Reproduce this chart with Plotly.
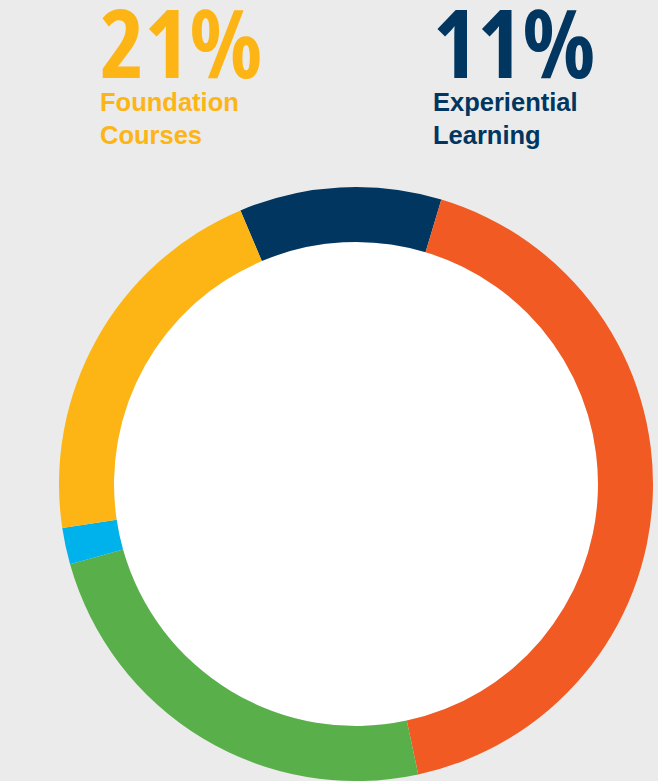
import plotly.graph_objects as go

labels = ["Experiential Learning", "Major Courses", "Electives", "Other", "Foundation Courses"]
values = [11, 42, 24, 2, 21]
colors = ["#003660", "#F15A22", "#59B04A", "#00B2EC", "#FDB515"]

W, H = 658, 781
cx, cy, R, r_in = 356, 484, 297, 242

fig = go.Figure(go.Pie(
    labels=labels, values=values, sort=False, direction="clockwise",
    rotation=-22.9, hole=r_in / R,
    marker=dict(colors=colors, line=dict(width=0)),
    textinfo="none", showlegend=False,
    domain=dict(x=[(cx - R) / W, (cx + R) / W], y=[(H - cy - R) / H, (H - cy + R) / H]),
))

# white centre of the ring
fig.add_shape(type="circle", xref="paper", yref="paper", layer="below",
              x0=(cx - r_in) / W, x1=(cx + r_in) / W,
              y0=(H - cy - r_in) / H, y1=(H - cy + r_in) / H,
              fillcolor="white", line=dict(width=0))

small = "Liberation Sans"
bigstyle = "font-family:Open Sans;font-stretch:75%;font-size:95px"

def add_label(x, pct, name, color):
    text = (f"<span style='{bigstyle}'><b>{pct}</b></span>"
            f"<br><b>{name}</b>")
    fig.add_annotation(x=x / W, y=1 + 26 / H, xref="paper", yref="paper", xanchor="left", yanchor="top",
                       text=text, showarrow=False, align="left",
                       font=dict(family=small, size=25.5, color=color))

add_label(98, f"{values[4]}%", "Foundation<br>Courses", colors[4])
add_label(431, f"{values[0]}%", "Experiential<br>Learning", colors[0])

fig.update_layout(width=W, height=H, margin=dict(l=0, r=0, t=0, b=0),
                  paper_bgcolor="#EBEBEB", plot_bgcolor="#EBEBEB")
fig.write_html("out.html")
